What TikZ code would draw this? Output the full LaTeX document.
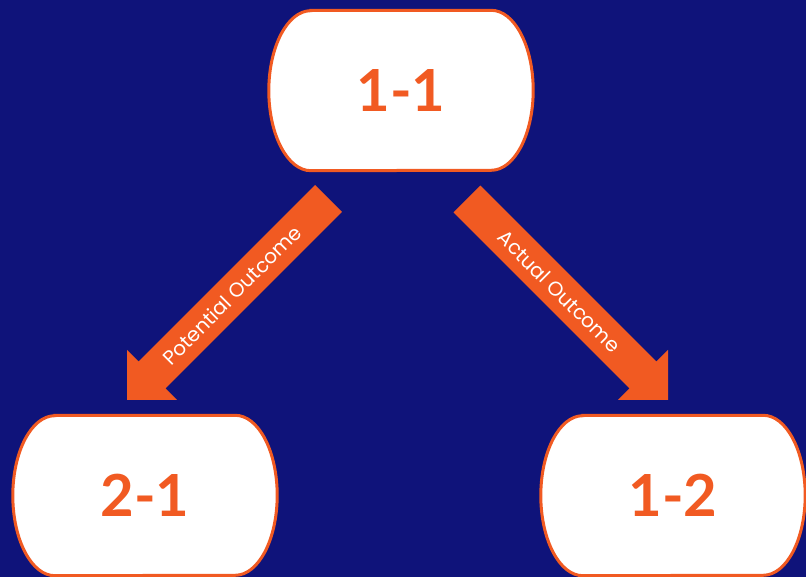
\documentclass[tikz,border=0pt]{standalone}
\usepackage{fontspec}
\usetikzlibrary{calc}
\newfontfamily\numfont{Lato}
\newfontfamily\labelfont{Poppins}
\definecolor{navy}{HTML}{0F137A}
\definecolor{tang}{HTML}{F15A22}
\pgfdeclarelayer{back}
\pgfdeclarelayer{background}
\pgfsetlayers{back,background,main}
\tikzset{
  numbox/.style={minimum width=264pt, minimum height=160pt, inner sep=0pt,
    text=tang, font=\numfont\bfseries\fontsize{58}{58}\selectfont},
  boxline/.style={draw=tang, line width=3pt, fill=white},
  blockarrow/.style={fill=tang, draw=none},
  arrowlabel/.style={text=white, font=\labelfont\fontsize{20}{22}\selectfont, inner sep=0pt}
}
\begin{document}
\begin{tikzpicture}[x=1pt, y=1pt]
  \begin{pgfonlayer}{back}
    \fill[navy] (0,0) rectangle (806,577);
  \end{pgfonlayer}
  \useasboundingbox (0,0) rectangle (806,577);

  % the three states
  \node[numbox] (n11) at (401,486.5) {1-1};
  \node[numbox] (n21) at (145,81.5) {2-1};
  \node[numbox] (n12) at (673,81.5) {1-2};

  % boxes with straight top/bottom and half-elliptic ends
  \begin{pgfonlayer}{background}
    \foreach \n in {n11,n21,n12} {
      \draw[boxline] ($(\n.north west)+(42,0)$) -- ($(\n.north east)+(-42,0)$)
        arc[start angle=90, end angle=-90, x radius=42, y radius=80]
        -- ($(\n.south west)+(42,0)$)
        arc[start angle=270, end angle=90, x radius=42, y radius=80] -- cycle;
    }
  \end{pgfonlayer}

  % block arrows
  \coordinate (la) at (328.5,378.5);
  \coordinate (lt) at (127,177);
  \coordinate (ra) at (467,378);
  \coordinate (rt) at (668,177);
  \coordinate (lhb) at ($(lt)!35.4pt!(la)$);
  \coordinate (rhb) at ($(rt)!35.4pt!(ra)$);

  \fill[blockarrow] ($(la)!19pt!90:(lt)$) -- ($(lhb)!19pt!90:(lt)$)
    -- ($(lhb)!35.4pt!90:(lt)$) -- (lt) -- ($(lhb)!35.4pt!-90:(lt)$)
    -- ($(lhb)!19pt!-90:(lt)$) -- ($(la)!19pt!-90:(lt)$) -- cycle;
  \fill[blockarrow] ($(ra)!19pt!90:(rt)$) -- ($(rhb)!19pt!90:(rt)$)
    -- ($(rhb)!35.4pt!90:(rt)$) -- (rt) -- ($(rhb)!35.4pt!-90:(rt)$)
    -- ($(rhb)!19pt!-90:(rt)$) -- ($(ra)!19pt!-90:(rt)$) -- cycle;

  \path (la) -- (lt) node[pos=0.48, sloped, arrowlabel] {Potential Outcome};
  \path (ra) -- (rt) node[pos=0.46, sloped, arrowlabel] {Actual Outcome};
\end{tikzpicture}
\end{document}
